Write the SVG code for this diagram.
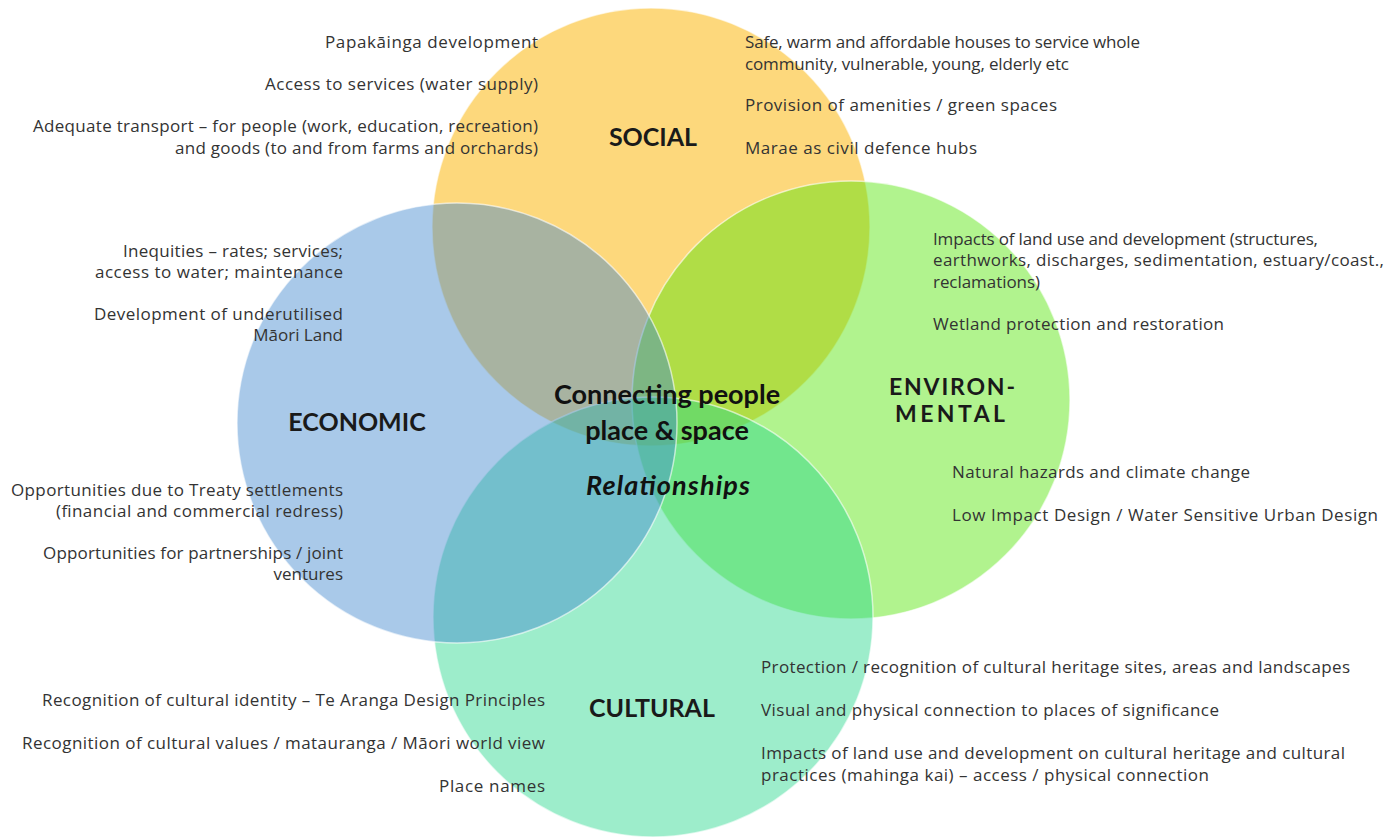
<svg xmlns="http://www.w3.org/2000/svg" width="1387" height="837" viewBox="0 0 1387 837">
<style>
.c{stroke:#ffffff;stroke-opacity:0.6;stroke-width:1.5}
.t{font-family:"Open Sans","Liberation Sans",sans-serif;font-size:17px;fill:#333333}
.r{text-anchor:end}
.h{font-family:Lato,"Liberation Sans",sans-serif;font-weight:bold;font-size:25px;fill:#1a1a1a;text-anchor:middle}
.e{font-size:23px}
.m{font-family:Lato,"Liberation Sans",sans-serif;font-weight:bold;font-size:27px;fill:#111111;text-anchor:middle}
</style>
<rect width="1387" height="837" fill="#ffffff"/>
<g id="social">
<circle class="c" cx="651" cy="227" r="219" fill="#fdd87c"/>
</g>
<g id="environmental">
<circle class="c" cx="851" cy="400" r="219" fill="#52e404" fill-opacity="0.45"/>
</g>
<g id="cultural">
<circle class="c" cx="653" cy="617" r="220" fill="#25d78b" fill-opacity="0.45"/>
</g>
<g id="economic">
<circle class="c" cx="457" cy="423" r="220" fill="#4087ce" fill-opacity="0.45"/>
</g>
<g id="connectors"></g>
<g id="social-text">
<text class="h" x="653" y="146">SOCIAL</text>
<text class="t r" x="538" y="48" textLength="213">Papakāinga development</text>
<text class="t r" x="538" y="90" textLength="273">Access to services (water supply)</text>
<text class="t r" x="538" y="132" textLength="505">Adequate transport – for people (work, education, recreation)</text>
<text class="t r" x="538" y="154" textLength="363">and goods (to and from farms and orchards)</text>
<text class="t" x="745" y="48" textLength="395">Safe, warm and affordable houses to service whole</text>
<text class="t" x="745" y="70" textLength="324">community, vulnerable, young, elderly etc</text>
<text class="t" x="745" y="111" textLength="312">Provision of amenities / green spaces</text>
<text class="t" x="745" y="154" textLength="232">Marae as civil defence hubs</text>
</g>
<g id="economic-text">
<text class="h" x="357" y="431">ECONOMIC</text>
<text class="t r" x="343" y="257" textLength="220">Inequities – rates; services;</text>
<text class="t r" x="343" y="278" textLength="248">access to water; maintenance</text>
<text class="t r" x="343" y="320" textLength="249">Development of underutilised</text>
<text class="t r" x="343" y="341">Māori Land</text>
<text class="t r" x="343" y="496" textLength="332">Opportunities due to Treaty settlements</text>
<text class="t r" x="343" y="517" textLength="287">(financial and commercial redress)</text>
<text class="t r" x="343" y="559" textLength="300">Opportunities for partnerships / joint</text>
<text class="t r" x="343" y="580">ventures</text>
</g>
<g id="environmental-text">
<text class="h e" x="952" y="395" textLength="126">ENVIRON-</text>
<text class="h e" x="950" y="422" textLength="110">MENTAL</text>
<text class="t" x="933" y="245" textLength="385">Impacts of land use and development (structures,</text>
<text class="t" x="933" y="266" textLength="451">earthworks, discharges, sedimentation, estuary/coast.,</text>
<text class="t" x="933" y="288" textLength="107">reclamations)</text>
<text class="t" x="933" y="330" textLength="291">Wetland protection and restoration</text>
<text class="t" x="952" y="478" textLength="298">Natural hazards and climate change</text>
<text class="t" x="952" y="521" textLength="426">Low Impact Design / Water Sensitive Urban Design</text>
</g>
<g id="cultural-text">
<text class="h" x="652" y="717">CULTURAL</text>
<text class="t r" x="545" y="706" textLength="503">Recognition of cultural identity – Te Aranga Design Principles</text>
<text class="t r" x="545" y="749" textLength="523">Recognition of cultural values / matauranga / Māori world view</text>
<text class="t r" x="545" y="792" textLength="106">Place names</text>
<text class="t" x="761" y="673" textLength="589">Protection / recognition of cultural heritage sites, areas and landscapes</text>
<text class="t" x="761" y="716" textLength="458">Visual and physical connection to places of significance</text>
<text class="t" x="761" y="759" textLength="584">Impacts of land use and development on cultural heritage and cultural</text>
<text class="t" x="761" y="781" textLength="448">practices (mahinga kai) – access / physical connection</text>
</g>
<g id="center">
<text class="m" x="667" y="404">Connecting people</text>
<text class="m" x="667" y="440">place &amp; space</text>
<text class="m" x="668" y="495" font-style="italic" textLength="164">Relationships</text>
</g>
</svg>
